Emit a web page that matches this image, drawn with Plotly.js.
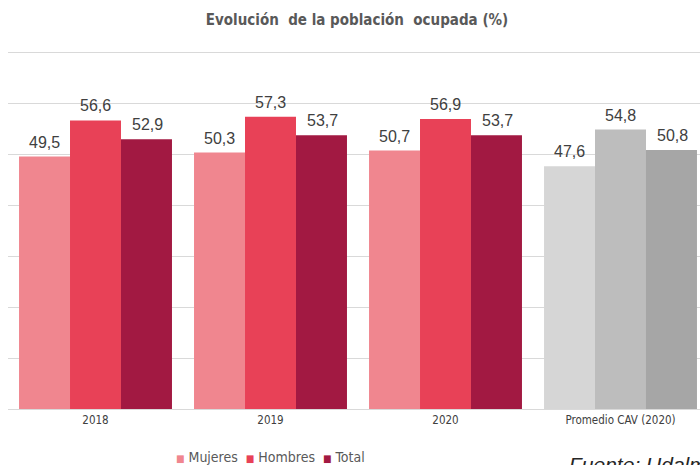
<!DOCTYPE html>
<html>
<head>
<meta charset="utf-8">
<script src="https://cdn.plot.ly/plotly-3.0.1.min.js"></script>
<style>html,body{margin:0;padding:0;overflow:hidden;background:#fff}#chart{width:700px;height:465px}</style>
</head>
<body>
<div id="chart"></div>
<script>
const categories = ["2018", "2019", "2020", "Promedio CAV (2020)"];
const mujeres = [49.5, 50.3, 50.7, 47.6];
const hombres = [56.6, 57.3, 56.9, 54.8];
const total = [52.9, 53.7, 53.7, 50.8];
const seriesNames = ["Mujeres", "Hombres", "Total"];
const colorsMujeres = ["#F0868F", "#F0868F", "#F0868F", "#D6D6D6"];
const colorsHombres = ["#E84157", "#E84157", "#E84157", "#BDBDBD"];
const colorsTotal = ["#A21942", "#A21942", "#A21942", "#A6A6A6"];

const narrow = "'Liberation Sans Narrow', 'Arial Narrow', 'DejaVu Sans Condensed', sans-serif";
const valFont = {family: "'Liberation Sans', Arial, sans-serif", size: 16, color: "#404040"};

const seriesVals = [mujeres, hombres, total];
const seriesCols = [colorsMujeres, colorsHombres, colorsTotal];

const data = seriesNames.map((name, j) => ({
  type: "bar", name: name, x: categories, y: seriesVals[j],
  marker: {color: seriesCols[j], line: {width: 0}},
  hoverinfo: "none", showlegend: false
}));

const NB = "\u00A0";
const annotations = [];
seriesVals.forEach((vals, j) => {
  vals.forEach((v, i) => {
    annotations.push({
      x: i, y: v, xref: "x", yref: "y", xshift: (j - 1) * 51.5, yshift: 4,
      yanchor: "bottom", xanchor: "center", showarrow: false,
      text: v.toFixed(1).replace(".", ","), font: valFont
    });
  });
});
// custom legend
annotations.push({
  xref: "paper", yref: "paper", x: (270 - 8) / 692, xanchor: "center", y: -(457 - 409) / 362, yanchor: "middle",
  showarrow: false,
  text: seriesNames.map((n, j) => "<span style='color:" + seriesCols[j][0] + ";font-size:10px'>■</span>" + NB + n).join(NB + NB),
  font: {family: narrow, size: 14, color: "#595959"}
});
annotations.push({
  text: "<i>Fuente: Udalmap</i>", xref: "paper", yref: "paper", x: (567 - 8) / 692, xanchor: "left",
  y: -(451 - 409) / 362, yanchor: "top", showarrow: false,
  font: {family: "'Liberation Sans', Arial, sans-serif", size: 21, color: "#262626"}
});

const layout = {
  width: 700, height: 465,
  margin: {l: 8, r: 0, t: 47, b: 56, autoexpand: false},
  paper_bgcolor: "#fff", plot_bgcolor: "#fff",
  barmode: "group", bargap: 0.126, bargroupgap: 0,
  title: {text: "<b>Evolución  de la población  ocupada (%)</b>", x: 0.51, xanchor: "center", y: 0.957, yanchor: "middle",
          font: {family: narrow, size: 15, color: "#595959"}},
  xaxis: {type: "category", range: [-0.5, -0.5 + 692/175], showgrid: false, showline: true, linecolor: "#D9D9D9", linewidth: 1,
          ticks: "", tickfont: {family: narrow, size: 11.5, color: "#404040"}, fixedrange: true},
  yaxis: {range: [0, 71], tickvals: [0, 10, 20, 30, 40, 50, 60, 70], showgrid: true, gridcolor: "#D9D9D9", gridwidth: 1, showticklabels: false,
          zeroline: true, zerolinecolor: "#D9D9D9", zerolinewidth: 1, fixedrange: true},
  showlegend: false,
  annotations: annotations
};
Plotly.newPlot("chart", data, layout, {displayModeBar: false, staticPlot: true});
</script>
</body>
</html>
